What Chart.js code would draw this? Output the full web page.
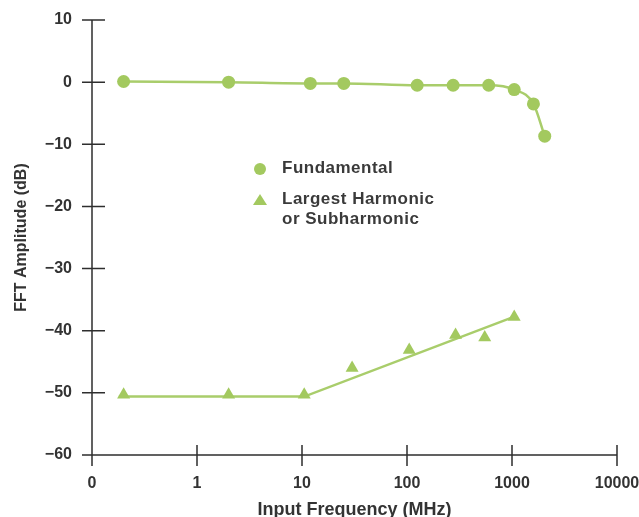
<!DOCTYPE html>
<html>
<head>
<meta charset="utf-8">
<script src="https://cdn.jsdelivr.net/npm/chart.js@4/dist/chart.umd.min.js"></script>
<style>
  html, body { margin: 0; padding: 0; background: #fff; }
  #wrap { position: relative; width: 639px; height: 517px; }
  canvas { display: block; }
  .leg { position: absolute; font-family: "Liberation Sans", Arial, sans-serif; font-weight: bold; font-size: 17px; letter-spacing: 0.5px; color: #3a3a3a; line-height: 20px; }
  .dot { position: absolute; width: 12px; height: 12px; border-radius: 50%; background: #a3c95f; }
  .tri { position: absolute; width: 0; height: 0; border-left: 7px solid transparent; border-right: 7px solid transparent; border-bottom: 11px solid #a3c95f; }
</style>
</head>
<body>
<div id="wrap">
  <canvas id="c" width="639" height="517"></canvas>
  <div class="dot" style="left:254px; top:163px;"></div>
  <div class="leg" style="left:282px; top:158px;">Fundamental</div>
  <div class="tri" style="left:253px; top:194px;"></div>
  <div class="leg" style="left:282px; top:189px;">Largest Harmonic<br>or Subharmonic</div>
</div>
<script>
// ---- data ----
const fundFreq = [0.2, 2, 12, 25, 125, 275, 600, 1050, 1600, 2050];
const fundAmp  = [0.1, 0, -0.2, -0.2, -0.5, -0.5, -0.5, -1.2, -3.5, -8.7];

const harmFreq = [0.2, 2, 10.5, 30, 105, 290, 550, 1050];
const harmAmp  = [-50.3, -50.3, -50.3, -46.0, -43.1, -40.7, -41.1, -37.8];

const fitFreq = [0.18, 10.5, 1100];
const fitAmp  = [-50.6, -50.6, -37.6];

const xTicks = [0.1, 1, 10, 100, 1000, 10000];
const xTickLabels = ['0', '1', '10', '100', '1000', '10000'];
const yTicks = [10, 0, -10, -20, -30, -40, -50, -60];

const GREEN = '#a3c95f';
const LINE_GREEN = '#a9cd6b';
const AXIS = '#2e2e2e';
const FONT = "'Liberation Sans', Arial, sans-serif";

const pts = (xs, ys) => xs.map((x, i) => ({ x: x, y: ys[i] }));

const crossTicks = {
  id: 'crossTicks',
  afterDraw(chart) {
    const ctx = chart.ctx;
    const xs = chart.scales.x, ys = chart.scales.y;
    const x0 = xs.getPixelForValue(0.1);
    const y0 = ys.getPixelForValue(-60);
    ctx.save();
    ctx.strokeStyle = AXIS;
    ctx.lineWidth = 1.5;
    ctx.beginPath();
    ctx.moveTo(x0, ys.getPixelForValue(10));
    ctx.lineTo(x0, y0);
    ctx.moveTo(x0, y0);
    ctx.lineTo(xs.getPixelForValue(10000), y0);
    yTicks.forEach(v => {
      const y = ys.getPixelForValue(v);
      ctx.moveTo(x0 - 10, y);
      ctx.lineTo(x0 + 13, y);
    });
    xTicks.forEach(v => {
      const x = xs.getPixelForValue(v);
      ctx.moveTo(x, y0 - 10);
      ctx.lineTo(x, y0 + 11);
    });
    ctx.stroke();
    ctx.restore();
  }
};

new Chart(document.getElementById('c'), {
  type: 'scatter',
  data: {
    datasets: [
      {
        label: 'Fundamental',
        data: pts(fundFreq, fundAmp),
        showLine: true,
        borderColor: LINE_GREEN,
        borderWidth: 2.5,
        backgroundColor: GREEN,
        pointBackgroundColor: GREEN,
        pointBorderWidth: 0,
        pointRadius: 6.5,
        pointStyle: 'circle',
        cubicInterpolationMode: 'monotone'
      },
      {
        label: 'Largest Harmonic or Subharmonic',
        data: pts(harmFreq, harmAmp),
        showLine: false,
        backgroundColor: GREEN,
        pointBackgroundColor: GREEN,
        pointBorderWidth: 0,
        pointRadius: 7.5,
        pointStyle: 'triangle'
      },
      {
        label: 'fit',
        data: pts(fitFreq, fitAmp),
        showLine: true,
        borderColor: LINE_GREEN,
        borderWidth: 2.5,
        pointRadius: 0,
        tension: 0
      }
    ]
  },
  options: {
    responsive: false,
    animation: false,
    layout: { padding: { top: 20, right: 22, left: 0, bottom: -4 } },
    plugins: { legend: { display: false }, tooltip: { enabled: false } },
    scales: {
      x: {
        type: 'logarithmic',
        min: 0.1,
        max: 10000,
        afterBuildTicks(scale) { scale.ticks = xTicks.map(v => ({ value: v })); },
        afterFit(scale) { scale.height = 66; scale.paddingRight = 0; scale.paddingLeft = 0; },
        grid: { display: false, drawTicks: false },
        border: { display: false },
        ticks: {
          padding: 19,
          color: '#333',
          font: { family: FONT, size: 16, weight: 'bold' },
          maxRotation: 0,
          autoSkip: false,
          callback: (v) => xTickLabels[xTicks.indexOf(v)]
        },
        title: {
          display: true,
          text: 'Input Frequency (MHz)',
          color: '#333',
          font: { family: FONT, size: 18, weight: 'bold' },
          padding: 0
        }
      },
      y: {
        min: -60,
        max: 10,
        afterBuildTicks(scale) { scale.ticks = yTicks.map(v => ({ value: v })); },
        afterFit(scale) { scale.width = 92; scale.paddingTop = 0; scale.paddingBottom = 0; },
        grid: { display: false, drawTicks: false },
        border: { display: false },
        ticks: {
          padding: 20,
          color: '#333',
          font: { family: FONT, size: 16, weight: 'bold' },
          callback: (v) => v < 0 ? '\u2212' + Math.abs(v) : String(v)
        },
        title: {
          display: true,
          text: 'FFT Amplitude (dB)',
          color: '#333',
          font: { family: FONT, size: 16, weight: 'bold' },
          padding: { top: 12, bottom: 0 }
        }
      }
    }
  },
  plugins: [crossTicks]
});
</script>
</body>
</html>
